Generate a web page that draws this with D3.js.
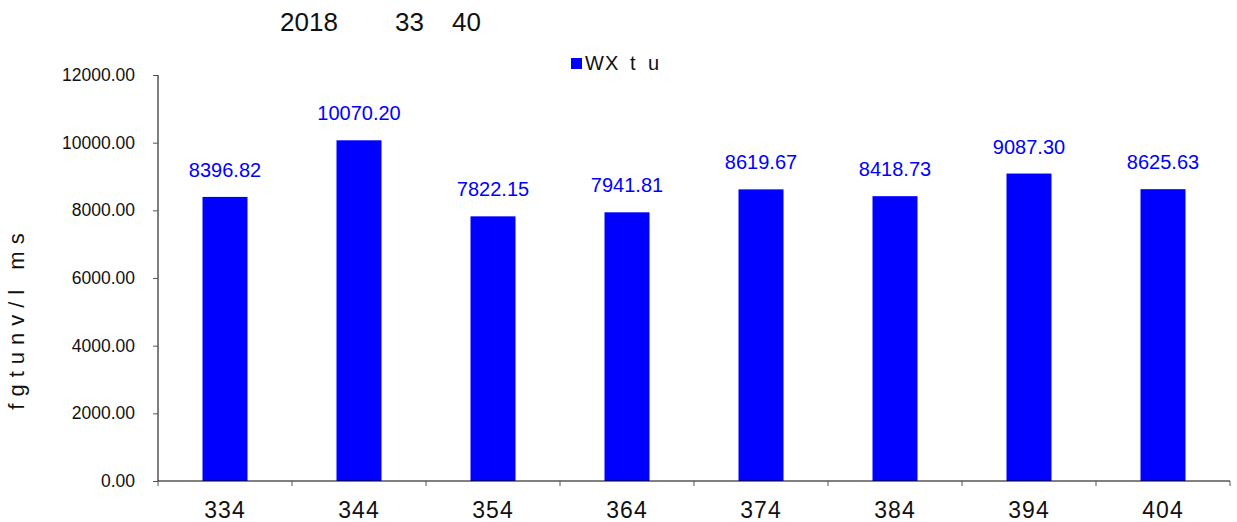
<!DOCTYPE html>
<html>
<head>
<meta charset="utf-8">
<script src="https://cdn.jsdelivr.net/npm/d3@7"></script>
<style>
  body { margin: 0; background: #fff; }
  text { font-family: "Liberation Sans", Arial, sans-serif; }
</style>
</head>
<body>
<script>
const categories = ["334", "344", "354", "364", "374", "384", "394", "404"];
const values = [8396.82, 10070.2, 7822.15, 7941.81, 8619.67, 8418.73, 9087.3, 8625.63];
const yTicks = [0, 2000, 4000, 6000, 8000, 10000, 12000];
const seriesName = ["W", "X", "t", "u"];
const yTitle = "fgtunv/l ms";
const titleParts = ["2018", "33", "40"];

const width = 1237, height = 522;
const plotLeft = 158, plotRight = 1230, plotTop = 75, plotBottom = 481;
const barColor = "#0000ff";

const svg = d3.select("body").append("svg")
  .attr("width", width)
  .attr("height", height)
  .attr("viewBox", `0 0 ${width} ${height}`);

const x = d3.scaleBand()
  .domain(categories)
  .range([plotLeft, plotRight]);

const y = d3.scaleLinear()
  .domain([0, 12000])
  .range([plotBottom, plotTop]);

const barWidth = 45;

// Bars
svg.append("g")
  .selectAll("rect")
  .data(values)
  .enter()
  .append("rect")
  .attr("x", (d, i) => x(categories[i]) + x.bandwidth() / 2 - barWidth / 2)
  .attr("y", (d) => y(d))
  .attr("width", barWidth)
  .attr("height", (d) => y(0) - y(d))
  .attr("fill", barColor);

// Value labels
svg.append("g")
  .selectAll("text")
  .data(values)
  .enter()
  .append("text")
  .attr("x", (d, i) => x(categories[i]) + x.bandwidth() / 2)
  .attr("y", (d) => y(d) - 20)
  .attr("text-anchor", "middle")
  .attr("font-size", 20)
  .attr("fill", barColor)
  .text((d) => d.toFixed(2));

// Y axis
const yAxis = svg.append("g")
  .attr("transform", `translate(${plotLeft},0)`)
  .call(d3.axisLeft(y).tickValues(yTicks).tickSize(5).tickPadding(18)
    .tickFormat((d) => d.toFixed(2)));
yAxis.select(".domain").attr("stroke", "#000").attr("d", `M0,${plotTop}V${plotBottom}`);
yAxis.selectAll(".tick line").attr("stroke", "#555");
yAxis.selectAll("text").attr("font-size", 17.5).attr("fill", "#111")
  .attr("font-family", "Liberation Sans, Arial, sans-serif");

// X axis
const xAxis = svg.append("g")
  .attr("transform", `translate(0,${plotBottom})`)
  .call(d3.axisBottom(x).tickSize(0));
xAxis.select(".domain").attr("stroke", "#000").attr("d", `M${plotLeft},0H${plotRight}`);
xAxis.selectAll("text")
  .attr("y", 37)
  .attr("dy", null)
  .attr("font-size", 23)
  .attr("fill", "#111")
  .attr("letter-spacing", "1px")
  .attr("font-family", "Liberation Sans, Arial, sans-serif");

// Boundary ticks between categories
const bounds = categories.map((c) => x(c)).concat([plotRight]);
xAxis.append("g")
  .selectAll("line")
  .data(bounds)
  .enter()
  .append("line")
  .attr("x1", (d) => d)
  .attr("x2", (d) => d)
  .attr("y1", 0)
  .attr("y2", 5)
  .attr("stroke", "#555");

// Title
const titleX = [280, 395, 452];
svg.append("text")
  .attr("y", 31)
  .attr("font-size", 26)
  .attr("fill", "#111")
  .selectAll("tspan")
  .data(titleParts)
  .enter()
  .append("tspan")
  .attr("x", (d, i) => titleX[i])
  .text((d) => d);

// Legend
svg.append("rect")
  .attr("x", 571)
  .attr("y", 58)
  .attr("width", 11)
  .attr("height", 11)
  .attr("fill", barColor);
const legendX = [585, 605, 630, 648];
svg.append("text")
  .attr("y", 70)
  .attr("font-size", 20)
  .attr("fill", "#111")
  .selectAll("tspan")
  .data(seriesName)
  .enter()
  .append("tspan")
  .attr("x", (d, i) => legendX[i])
  .text((d) => d);

// Y title
svg.append("text")
  .attr("transform", `translate(24,318) rotate(-90)`)
  .attr("text-anchor", "middle")
  .attr("font-size", 22)
  .attr("fill", "#111")
  .attr("letter-spacing", "7px")
  .text(yTitle);
</script>
</body>
</html>
